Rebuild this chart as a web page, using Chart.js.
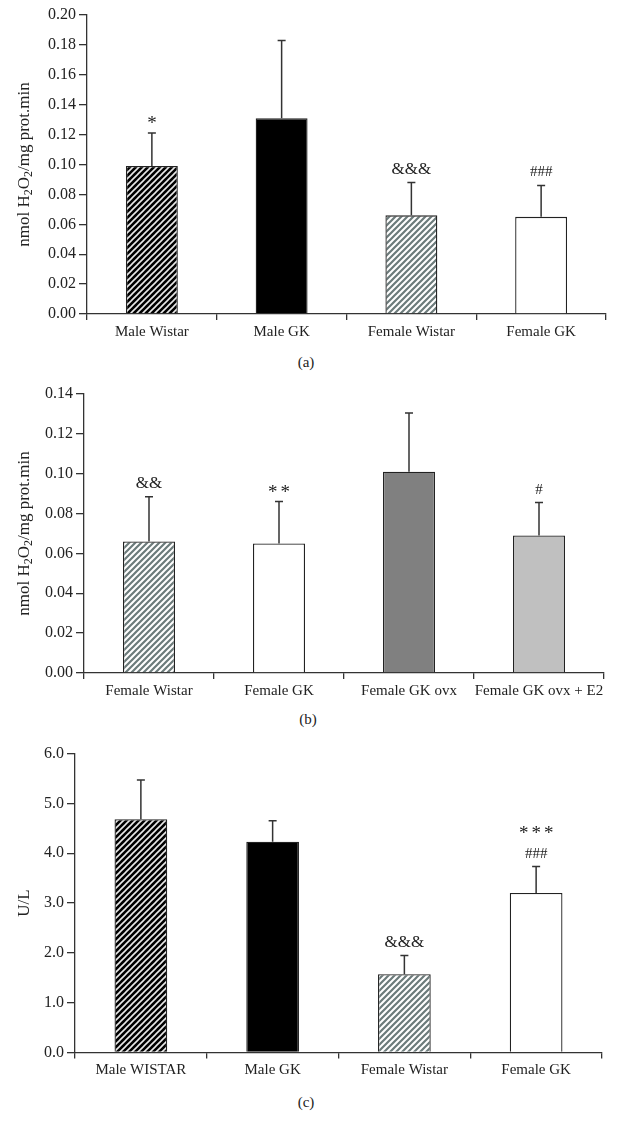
<!DOCTYPE html>
<html lang="en">
<head>
    <meta charset="UTF-8">
    <title>H2O2 production and enzyme activity</title>
    <style>
        body {
            margin: 0;
            padding: 0;
            background-color: white;
            width: 618px;
            height: 1136px;
            position: relative;
            overflow: hidden;
            font-family: "Liberation Serif", "DejaVu Serif", serif;
            color: #222;
        }
        .panel {
            position: absolute;
            left: 0;
            width: 618px;
        }
        .caption {
            position: absolute;
            width: 40px;
            text-align: center;
            font-size: 15px;
        }
    </style>
</head>
<body>
    <div class="panel" style="top:0;height:345px"><canvas id="chartA"></canvas></div>
    <div class="caption" style="left:286px;top:354px">(a)</div>
    <div class="panel" style="top:360px;height:350px"><canvas id="chartB"></canvas></div>
    <div class="caption" style="left:288px;top:711px">(b)</div>
    <div class="panel" style="top:740px;height:350px"><canvas id="chartC"></canvas></div>
    <div class="caption" style="left:286px;top:1094px">(c)</div>

    <script src="https://cdn.jsdelivr.net/npm/chart.js"></script>
    <script>
        // panel (a)
        const labelsA = ['Male Wistar', 'Male GK', 'Female Wistar', 'Female GK'];
        const meansA = [0.099, 0.131, 0.066, 0.065];
        const sdA = [0.022, 0.052, 0.022, 0.021];
        const marksA = [['*'], [], ['&&&'], ['###']];

        // panel (b)
        const labelsB = ['Female Wistar', 'Female GK', 'Female GK ovx', 'Female GK ovx + E2'];
        const meansB = [0.066, 0.065, 0.101, 0.069];
        const sdB = [0.0225, 0.021, 0.0295, 0.0165];
        const marksB = [['&&'], ['**'], [], ['#']];

        // panel (c)
        const labelsC = ['Male WISTAR', 'Male GK', 'Female Wistar', 'Female GK'];
        const meansC = [4.68, 4.23, 1.57, 3.20];
        const sdC = [0.79, 0.42, 0.375, 0.53];
        const marksC = [[], [], ['&&&'], ['***', '###']];

        const FONT = '"Liberation Serif", "DejaVu Serif", serif';
        const INK = '#222';

        function hatch(bg, fg, width) {
            const s = 6;
            const c = document.createElement('canvas');
            c.width = s; c.height = s;
            const g = c.getContext('2d');
            g.fillStyle = bg;
            g.fillRect(0, 0, s, s);
            g.strokeStyle = fg;
            g.lineWidth = width;
            g.beginPath();
            g.moveTo(-1, s + 1); g.lineTo(s + 1, -1);
            g.moveTo(-1, 1); g.lineTo(1, -1);
            g.moveTo(s - 1, s + 1); g.lineTo(s + 1, s - 1);
            g.stroke();
            return c.getContext('2d').createPattern(c, 'repeat');
        }

        const maleHatch = hatch('#000', '#e8e8e8', 1.6);
        const femaleHatch = hatch('#fff', '#6c7b7b', 2.2);

        // error bars and significance marks, placed with the y scale
        const errorBars = {
            id: 'errorBars',
            afterDatasetsDraw(chart, args, opts) {
                const ctx = chart.ctx;
                const y = chart.scales.y;
                const bars = chart.getDatasetMeta(0).data;
                ctx.save();
                bars.forEach((bar, i) => {
                    const top = y.getPixelForValue(opts.means[i] + opts.sd[i]);
                    ctx.strokeStyle = '#333';
                    ctx.lineWidth = 1.5;
                    ctx.beginPath();
                    ctx.moveTo(bar.x, bar.y);
                    ctx.lineTo(bar.x, top);
                    ctx.moveTo(bar.x - 4, top);
                    ctx.lineTo(bar.x + 4, top);
                    ctx.stroke();

                    ctx.fillStyle = INK;
                    ctx.textBaseline = 'middle';
                    ctx.textAlign = 'left';
                    const marks = opts.marks[i];
                    marks.forEach((m, k) => {
                        const star = m[0] === '*';
                        ctx.font = (star ? '19px ' : m[0] === '&' ? '17px ' : '15px ') + FONT;
                        const yy = top - 13 - (marks.length - 1 - k) * 24;
                        const gap = star ? 3 : 0;
                        const w = m.split('').reduce((a, ch) => a + ctx.measureText(ch).width, 0) + gap * (m.length - 1);
                        let xx = bar.x - w / 2;
                        for (const ch of m) {
                            ctx.fillText(ch, xx, star ? yy + 4 : yy);
                            xx += ctx.measureText(ch).width + gap;
                        }
                    });
                });
                ctx.restore();
            }
        };

        // rotated y title with subscripts
        const yTitle = {
            id: 'yTitle',
            afterDraw(chart, args, opts) {
                const ctx = chart.ctx;
                const area = chart.chartArea;
                ctx.save();
                ctx.translate(opts.x, (area.top + area.bottom) / 2);
                ctx.rotate(-Math.PI / 2);
                ctx.fillStyle = INK;
                ctx.textBaseline = 'middle';
                ctx.textAlign = 'left';
                const big = '17px ' + FONT, small = '12px ' + FONT;
                let total = 0;
                opts.parts.forEach(p => { ctx.font = p[1] ? small : big; total += ctx.measureText(p[0]).width; });
                let x = -total / 2;
                opts.parts.forEach(p => {
                    ctx.font = p[1] ? small : big;
                    ctx.fillText(p[0], x, p[1] ? 4 : 0);
                    x += ctx.measureText(p[0]).width;
                });
                ctx.restore();
            }
        };

        function makeChart(id, labels, means, sd, marks, fills, cfg) {
            new Chart(document.getElementById(id), {
                type: 'bar',
                data: {
                    labels: labels,
                    datasets: [{
                        data: means,
                        backgroundColor: fills,
                        borderColor: '#222',
                        borderWidth: 1.3,
                        borderSkipped: 'bottom',
                        barPercentage: 0.4,
                        categoryPercentage: 1
                    }]
                },
                options: {
                    responsive: true,
                    maintainAspectRatio: false,
                    animation: false,
                    layout: { padding: { top: cfg.top, right: cfg.right, left: 0, bottom: 0 } },
                    scales: {
                        x: {
                            grid: { drawOnChartArea: false, tickLength: 6, color: '#333', lineWidth: 1.3, offset: true },
                            border: { color: '#333', width: 1.3 },
                            ticks: { color: INK, font: { family: FONT, size: 15 }, padding: 3, maxRotation: 0, autoSkip: false },
                            afterFit: s => { s.height = cfg.xh; }
                        },
                        y: {
                            min: 0,
                            max: cfg.max,
                            grid: { drawOnChartArea: false, tickLength: 8, color: '#333', lineWidth: 1.3 },
                            border: { color: '#333', width: 1.3 },
                            ticks: {
                                stepSize: cfg.step,
                                color: INK,
                                padding: 3,
                                font: { family: FONT, size: 16 },
                                callback: v => v.toFixed(cfg.dec)
                            },
                            afterFit: s => { s.width = cfg.left; }
                        }
                    },
                    plugins: {
                        legend: { display: false },
                        tooltip: { enabled: false },
                        errorBars: { means: means, sd: sd, marks: marks },
                        yTitle: { x: 25, parts: cfg.title }
                    }
                },
                plugins: [errorBars, yTitle]
            });
        }

        const h2o2Title = [['nmol H', 0], ['2', 1], ['O', 0], ['2', 1], ['/mg prot.min', 0]];

        makeChart('chartA', labelsA, meansA, sdA, marksA,
            [maleHatch, '#000', femaleHatch, '#fff'],
            { top: 15, right: 12, left: 87, xh: 31, max: 0.2, step: 0.02, dec: 2, title: h2o2Title });

        makeChart('chartB', labelsB, meansB, sdB, marksB,
            [femaleHatch, '#fff', '#808080', '#c0c0c0'],
            { top: 34, right: 14, left: 84, xh: 37, max: 0.14, step: 0.02, dec: 2, title: h2o2Title });

        makeChart('chartC', labelsC, meansC, sdC, marksC,
            [maleHatch, '#000', femaleHatch, '#fff'],
            { top: 13.5, right: 16, left: 75, xh: 37.5, max: 6, step: 1, dec: 1, title: [['U/L', 0]] });
    </script>
</body>
</html>
